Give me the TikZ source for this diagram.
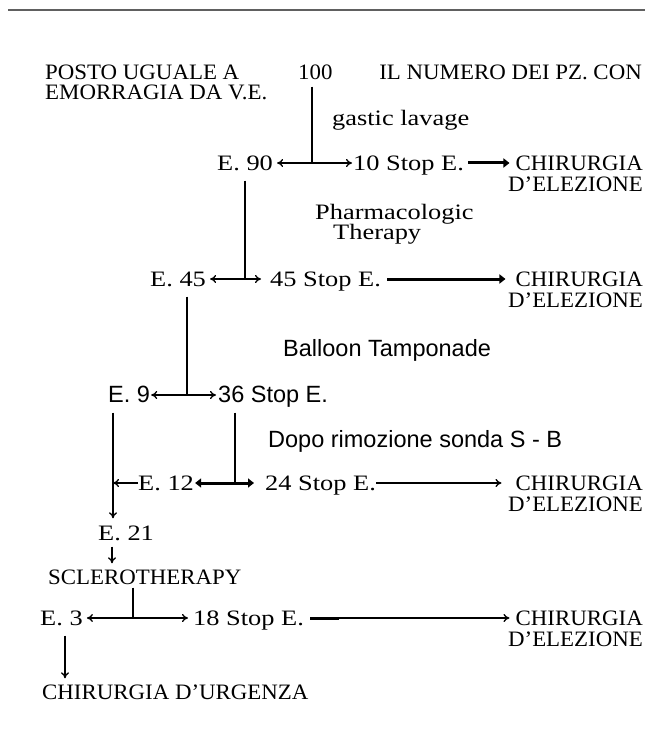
\documentclass[tikz,border=0pt]{standalone}
\usepackage{fontspec}
\setmainfont{Liberation Serif}
\newfontfamily\capsf[FakeStretch=1.04]{Liberation Serif}
\newfontfamily\wserif[FakeStretch=1.2]{Liberation Serif}
\newfontfamily\sansf{Liberation Sans}
\usetikzlibrary{arrows.meta}
\begin{document}
\begin{tikzpicture}[x=1pt,y=-1pt,
  base/.style={inner sep=0pt,text height=15pt,text depth=0pt},
  capst/.style={base,font=\capsf\fontsize{22}{24}\selectfont},
  wt/.style={base,font=\wserif\fontsize{22}{24}\selectfont},
  st/.style={base,font=\sansf\fontsize{23.5}{26}\selectfont},
  link/.style={line width=1.2pt},
  dbl/.style={line width=1.3pt,{To[length=6pt,width=8pt]}-{To[length=6pt,width=8pt]}},
  arr/.style={line width=1.3pt,-{To[length=6pt,width=8pt]}},
  thickarr/.style={line width=3pt,-{Triangle[length=6pt,width=9pt]}},
  thickdbl/.style={line width=3pt,{Triangle[length=6pt,width=9pt]}-{Triangle[length=6pt,width=9pt]}}
]
\useasboundingbox (0,0) rectangle (645,735);
\fill[white] (0,0) rectangle (645,735);
\coordinate (rl) at (8,10);
\coordinate (rr) at (645,10);
\draw[gray!75!black,line width=2.5pt] (rl) -- (rr);

% texts
\node[capst,anchor=west] (posto) at (45,72) {POSTO UGUALE A};
\node[capst,anchor=west] (emorr) at (45,92) {EMORRAGIA DA V.E.};
\node[capst,anchor=west] (n100) at (298,72) {100};
\node[capst,anchor=east] (ilnum) at (642,72) {IL NUMERO DEI PZ. CON};
\node[wt,anchor=west] (gast) at (332,118) {gastic lavage};

\node[wt,anchor=west] (E90) at (217,163) {E. 90};
\node[wt,anchor=west] (s10) at (353,163) {10 Stop E.};
\node[capst,anchor=east] (ch1) at (643,163) {CHIRURGIA};
\node[capst,anchor=east] (de1) at (643,184) {D’ELEZIONE};

\node[wt,anchor=west] (pharm) at (315,212) {Pharmacologic};
\node[wt,anchor=west] (ther) at (333,232) {Therapy};

\node[wt,anchor=west] (E45) at (150,279) {E. 45};
\node[wt,anchor=west] (s45) at (270,279) {45 Stop E.};
\node[capst,anchor=east] (ch2) at (643,279) {CHIRURGIA};
\node[capst,anchor=east] (de2) at (643,300) {D’ELEZIONE};

\node[st,anchor=west] (ball) at (283,349) {Balloon Tamponade};

\node[st,anchor=west] (E9) at (108,395) {E. 9};
\node[st,anchor=west] (s36) at (218,395) {36 Stop E.};

\node[st,anchor=west] (dopo) at (268,440) {Dopo rimozione sonda S - B};

\node[wt,anchor=west] (E12) at (138,483) {E. 12};
\node[wt,anchor=west] (s24) at (265,483) {24 Stop E.};
\node[capst,anchor=east] (ch4) at (643,483) {CHIRURGIA};
\node[capst,anchor=east] (de4) at (643,504) {D’ELEZIONE};

\node[wt,anchor=west] (E21) at (98,533) {E. 21};
\node[capst,anchor=west] (scl) at (48,577) {SCLEROTHERAPY};

\node[wt,anchor=west] (E3) at (40,618) {E. 3};
\node[wt,anchor=west] (s18) at (193,618) {18 Stop E.};
\node[capst,anchor=east] (ch5) at (643,618) {CHIRURGIA};
\node[capst,anchor=east] (de5) at (643,639) {D’ELEZIONE};

\node[capst,anchor=west] (urg) at (42,692) {CHIRURGIA D’URGENZA};

% junctions
\coordinate (j1) at (312,163);
\coordinate (j2) at (245,279);
\coordinate (j3) at (187,395);
\coordinate (l9) at (113,395);
\coordinate (j4) at (235,483);
\coordinate (l21) at (112,533);
\coordinate (j5) at (133,618);
\coordinate (l3) at (65,618);

% connectors
\draw[link,shorten <=7pt] (n100.south -| j1) -- (j1);
\draw[dbl,shorten <=4pt,shorten >=1pt] (E90.east) -- (s10.west);
\draw[thickarr,shorten <=4pt,shorten >=6pt] (s10.east) -- (ch1.west);

\draw[link,shorten <=10pt] (E90.south -| j2) -- (j2);
\draw[dbl,shorten <=4pt,shorten >=9pt] (E45.east) -- (s45.west);
\draw[thickarr,shorten <=6pt,shorten >=10pt] (s45.east) -- (ch2.west);

\draw[link,shorten <=10pt] (E45.south -| j3) -- (j3);
\draw[dbl,shorten <=1pt,shorten >=2pt] (E9.east) -- (s36.west);

\draw[arr,shorten <=10pt,shorten >=7pt] (E9.south -| l9) -- (E21.north -| l9);
\draw[link,shorten <=10pt] (s36.south -| j4) -- (j4);
\draw[arr] (E12.west) -- (E12.west -| l9);
\draw[thickdbl,shorten <=1pt,shorten >=11pt] (E12.east) -- (s24.west);
\draw[arr,shorten <=0pt,shorten >=14pt] (s24.east) -- (ch4.west);

\draw[arr,shorten <=6pt,shorten >=6pt] (E21.south -| l21) -- (scl.north -| l21);
\draw[link,shorten <=3pt] (scl.south -| j5) -- (j5);
\draw[dbl,shorten <=4pt,shorten >=5pt] (E3.east) -- (s18.west);
\draw[arr,shorten <=6pt,shorten >=6pt] (s18.east) -- (ch5.west);
\draw[line width=3pt,shorten <=6pt] (s18.east) -- ([xshift=35pt]s18.east);
\draw[arr,shorten <=10pt,shorten >=6pt] (E3.south -| l3) -- (urg.north -| l3);
\end{tikzpicture}
\end{document}
